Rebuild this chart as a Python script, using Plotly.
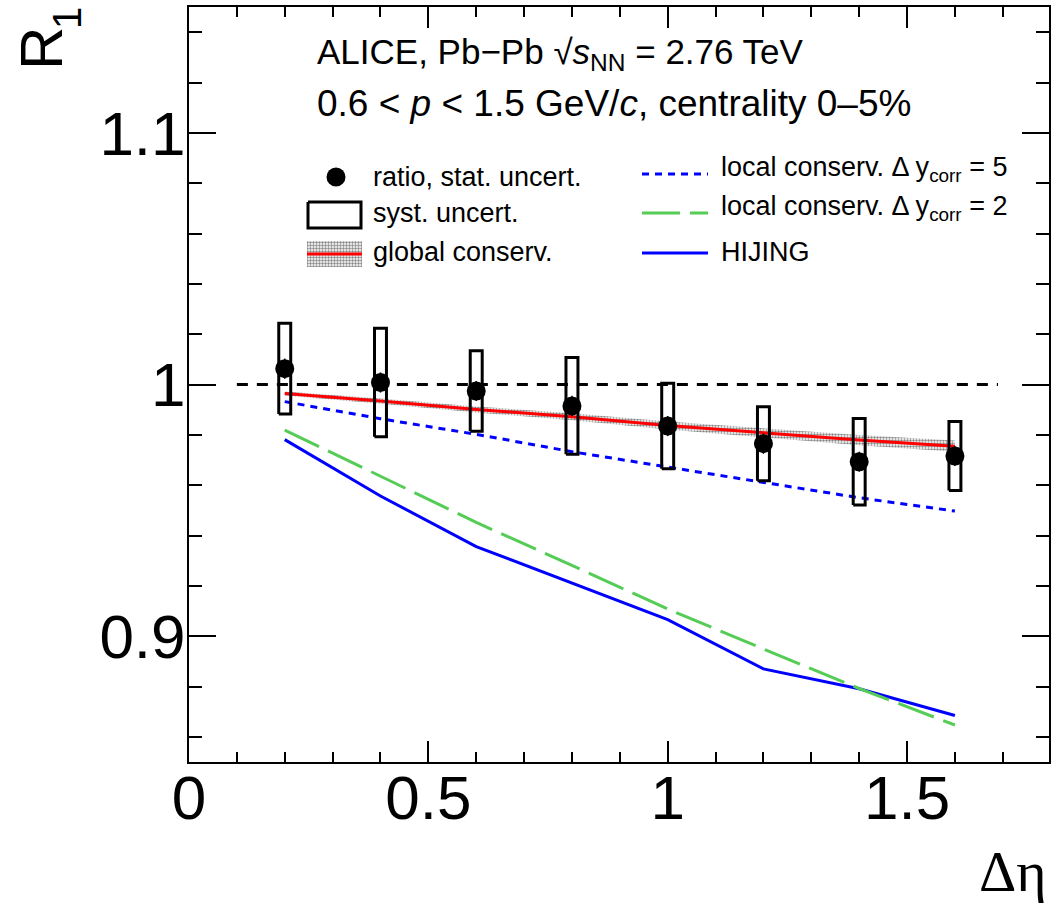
import plotly.graph_objects as go

# ---------------- data ----------------
deta = [0.2, 0.4, 0.6, 0.8, 1.0, 1.2, 1.4, 1.6]
ratio = [1.0063, 1.0008, 0.9974, 0.9915, 0.9835, 0.9765, 0.9693, 0.9716]
stat_err = [0.004, 0.004, 0.004, 0.004, 0.004, 0.004, 0.004, 0.004]
syst_err = [0.0180, 0.0216, 0.0160, 0.0192, 0.0170, 0.0147, 0.0172, 0.0137]
global_cons = [0.9964, 0.9934, 0.9901, 0.9872, 0.9837, 0.9809, 0.9779, 0.9755]
global_band = [0.0008, 0.0010, 0.0012, 0.0014, 0.0016, 0.0018, 0.0020, 0.0022]
local_dy5 = [0.9932, 0.9864, 0.9802, 0.9733, 0.9672, 0.9610, 0.9550, 0.9497]
local_dy2 = [0.9819, 0.9635, 0.9452, 0.9281, 0.9108, 0.8949, 0.8792, 0.8647]
hijing = [0.9781, 0.9557, 0.9356, 0.9212, 0.9066, 0.8870, 0.8791, 0.8685]
unity_x = [0.1, 1.69]
unity_y = [1.0, 1.0]

x_tickvals = [0, 0.5, 1, 1.5]
x_ticktext = ["0", "0.5", "1", "1.5"]
y_tickvals = [0.9, 1.0, 1.1]
y_ticktext = ["0.9", "1", "1.1"]

# ---------------- layout geometry ----------------
W, H = 1051, 909
ML, MR, MT, MB = 189, 2, 7, 147
PW, PH = W - ML - MR, H - MT - MB


def px(p):
    return (p - ML) / PW


def py(p):
    return (H - MB - p) / PH


FONT = "Liberation Sans, Arial, Helvetica, sans-serif"
SERIF = "Liberation Serif, Times New Roman, serif"
BLUE = "#0000ff"
GREEN = "#55cc55"
RED = "#ff0000"
PATTERN = dict(shape=".", fgcolor="#111111", size=3, solidity=0.5)

fig = go.Figure()

# unity dashed line
fig.add_trace(go.Scatter(x=unity_x, y=unity_y, mode="lines",
                         line=dict(color="black", width=3, dash="11px,9px"),
                         showlegend=False, hoverinfo="skip"))

# HIJING
fig.add_trace(go.Scatter(x=deta, y=hijing, mode="lines",
                         line=dict(color=BLUE, width=3), showlegend=False))
# local conservation dy=2
fig.add_trace(go.Scatter(x=deta, y=local_dy2, mode="lines",
                         line=dict(color=GREEN, width=3, dash="38px,10px"),
                         showlegend=False))
# local conservation dy=5
fig.add_trace(go.Scatter(x=deta, y=local_dy5, mode="lines",
                         line=dict(color=BLUE, width=3, dash="7px,6px"),
                         showlegend=False))

# global conservation band
band_x = deta + deta[::-1]
band_y = [v + e for v, e in zip(global_cons, global_band)] + \
         [v - e for v, e in zip(global_cons[::-1], global_band[::-1])]
fig.add_trace(go.Scatter(x=band_x, y=band_y, mode="lines", fill="toself",
                         line=dict(width=0, color="rgba(0,0,0,0)"),
                         fillcolor="rgba(0,0,0,0)", fillpattern=PATTERN,
                         showlegend=False, hoverinfo="skip"))
fig.add_trace(go.Scatter(x=deta, y=global_cons, mode="lines",
                         line=dict(color=RED, width=3), showlegend=False))

# systematic boxes
hw = 0.0125
bx, by = [], []
for x, y, s in zip(deta, ratio, syst_err):
    bx += [x - hw, x + hw, x + hw, x - hw, x - hw, None]
    by += [y - s, y - s, y + s, y + s, y - s, None]
fig.add_trace(go.Scatter(x=bx, y=by, mode="lines",
                         line=dict(color="black", width=3),
                         showlegend=False, hoverinfo="skip"))

# data points with statistical errors
fig.add_trace(go.Scatter(x=deta, y=ratio, mode="markers",
                         marker=dict(color="black", size=19, symbol="circle"),
                         error_y=dict(type="data", array=stat_err, color="black",
                                      thickness=1.5, width=0),
                         showlegend=False))

# ---------------- legend drawn on pixel overlay axes ----------------
leg = dict(xaxis="x2", yaxis="y2", showlegend=False, hoverinfo="skip")
fig.add_trace(go.Scatter(x=[336], y=[177], mode="markers",
                         marker=dict(color="black", size=19), **leg))
fig.add_trace(go.Scatter(x=[308, 361, 361, 308, 308], y=[202, 202, 228, 228, 202],
                         mode="lines", line=dict(color="black", width=3), **leg))
fig.add_trace(go.Scatter(x=[307, 362, 362, 307, 307], y=[241, 241, 267, 267, 241],
                         mode="lines", fill="toself", line=dict(width=0, color="rgba(0,0,0,0)"),
                         fillcolor="rgba(0,0,0,0)", fillpattern=PATTERN, **leg))
fig.add_trace(go.Scatter(x=[307, 362], y=[254, 254], mode="lines",
                         line=dict(color=RED, width=3), **leg))
fig.add_trace(go.Scatter(x=[642, 708], y=[174, 174], mode="lines",
                         line=dict(color=BLUE, width=3, dash="7px,6px"), **leg))
fig.add_trace(go.Scatter(x=[642, 708], y=[213, 213], mode="lines",
                         line=dict(color=GREEN, width=3, dash="38px,10px"), **leg))
fig.add_trace(go.Scatter(x=[642, 708], y=[253, 253], mode="lines",
                         line=dict(color=BLUE, width=3), **leg))

annotations = []


def txt(text, x, y, size, xanchor="left", yanchor="middle", family=FONT, angle=0):
    annotations.append(dict(text=text, x=px(x), y=py(y), xref="paper", yref="paper",
                            xanchor=xanchor, yanchor=yanchor, showarrow=False,
                            textangle=angle,
                            font=dict(family=family, size=size, color="black")))


txt("ratio, stat. uncert.", 371, 177, 27)
txt("syst. uncert.", 371, 213, 27)
txt("global conserv.", 371, 252, 27)
txt("local conserv. Δ y<sub>corr</sub> = 5", 719, 169, 27)
txt("local conserv. Δ y<sub>corr</sub> = 2", 719, 208, 27)
txt("HIJING", 719, 252, 27)
txt("ALICE, Pb−Pb √<i>s</i><sub>NN</sub> = 2.76 TeV", 315, 54, 35)
txt("0.6 &lt; <i>p</i> &lt; 1.5 GeV/<i>c</i>, centrality 0–5%", 315, 103, 37)
txt("R", 41, 49, 60, xanchor="center", yanchor="middle", angle=-90)
txt("1", 67, 18, 40, xanchor="center", yanchor="middle", angle=-90)
txt("Δη", 1049, 906, 58, xanchor="right", yanchor="bottom", family=SERIF)

axis_common = dict(showgrid=False, zeroline=False, showline=True, linecolor="black",
                   linewidth=2, mirror="ticks", ticks="inside", tickcolor="black",
                   tickwidth=2, tickfont=dict(family=FONT, size=62, color="black"))

fig.update_layout(
    width=W, height=H,
    margin=dict(l=ML, r=MR, t=MT, b=MB, autoexpand=False),
    paper_bgcolor="white", plot_bgcolor="white",
    showlegend=False,
    xaxis=dict(range=[0, PW / 478.7], tickvals=x_tickvals, ticktext=x_ticktext,
               ticklen=21, ticklabelstandoff=-19,
               minor=dict(dtick=0.1, tick0=0, ticklen=10, ticks="inside",
                          tickcolor="black", tickwidth=2),
               **axis_common),
    yaxis=dict(range=[0.85, 1.15], tickvals=y_tickvals, ticktext=y_ticktext,
               ticklen=27, ticklabelstandoff=-11,
               minor=dict(dtick=0.02, tick0=0.0, ticklen=13, ticks="inside",
                          tickcolor="black", tickwidth=2),
               **axis_common),
    xaxis2=dict(overlaying="x", range=[ML, W - MR], visible=False, anchor="y2"),
    yaxis2=dict(overlaying="y", range=[H - MB, MT], visible=False, anchor="x2"),
    annotations=annotations,
)

fig.write_html("out.html", config={"displayModeBar": False},
               post_script="document.body.style.margin='0';")
